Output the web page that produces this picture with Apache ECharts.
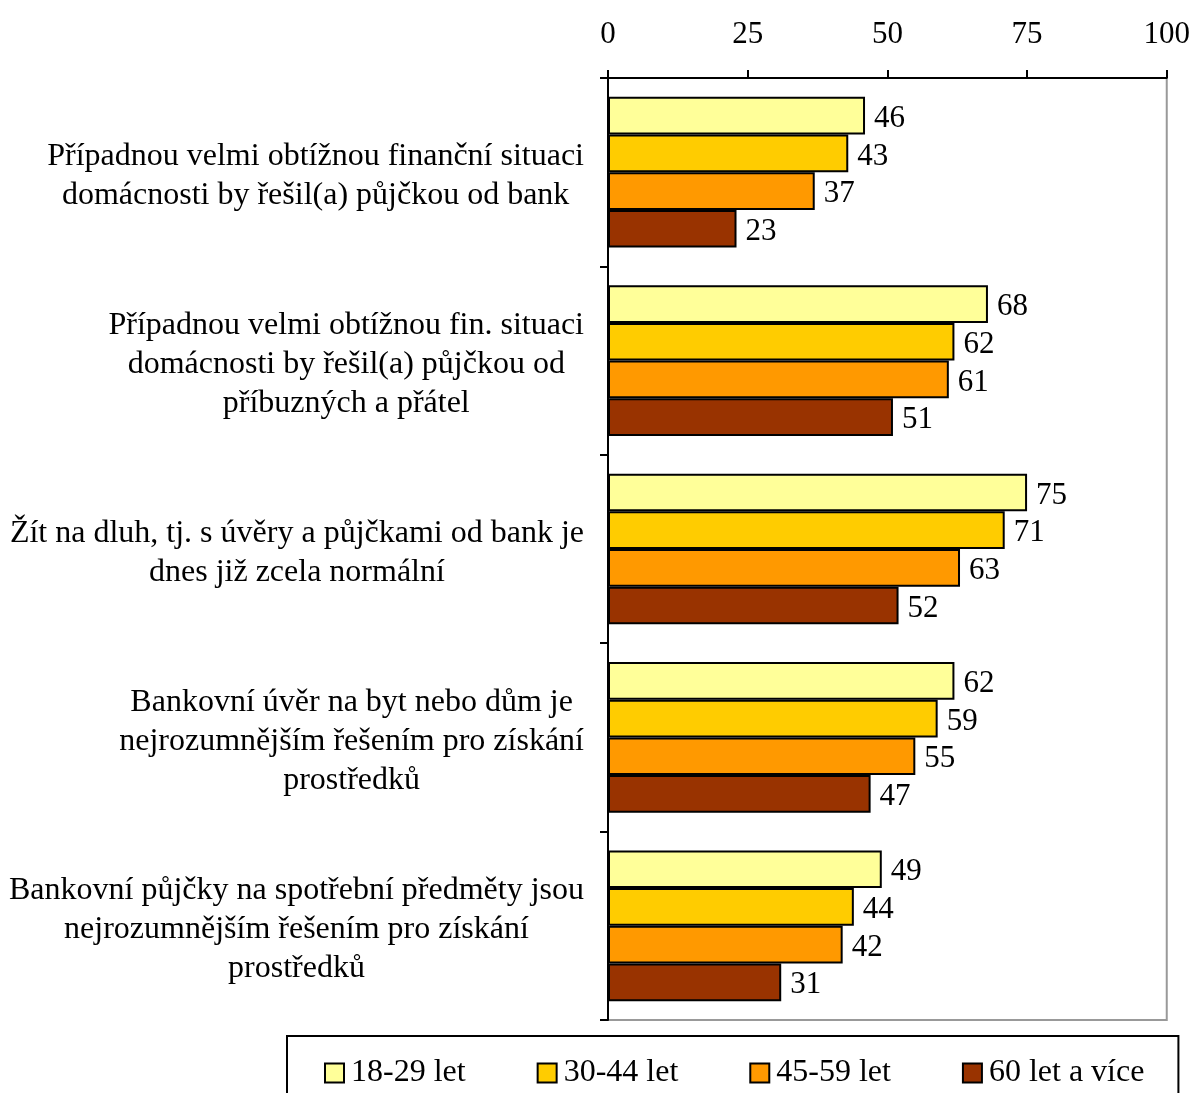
<!DOCTYPE html>
<html>
<head>
<meta charset="utf-8">
<script src="https://cdn.jsdelivr.net/npm/echarts@6/dist/echarts.min.js"></script>
<style>html,body{margin:0;padding:0;background:#fff}#c{width:1193px;height:1093px}</style>
</head>
<body>
<div id="c"></div>
<script>
const categories = [
  "Případnou velmi obtížnou finanční situaci\ndomácnosti by řešil(a) půjčkou od bank",
  "Případnou velmi obtížnou fin. situaci\ndomácnosti by řešil(a) půjčkou od\npříbuzných a přátel",
  "Žít na dluh, tj. s úvěry a půjčkami od bank je\ndnes již zcela normální",
  "Bankovní úvěr na byt nebo dům je\nnejrozumnějším řešením pro získání\nprostředků",
  "Bankovní půjčky na spotřební předměty jsou\nnejrozumnějším řešením pro získání\nprostředků"
];
const seriesNames = ["18-29 let", "30-44 let", "45-59 let", "60 let a více"];
const s18_29 = [46, 68, 75, 62, 49];
const s30_44 = [43, 62, 71, 59, 44];
const s45_59 = [37, 61, 63, 55, 42];
const s60plus = [23, 51, 52, 47, 31];
const xTicks = [0, 25, 50, 75, 100];
const colors = ["#FFFF99", "#FFCC00", "#FF9900", "#993300"];

const FONT = "'Liberation Serif', 'Times New Roman', serif";
const values = [s18_29, s30_44, s45_59, s60plus];

const chart = echarts.init(document.getElementById('c'), null, {renderer: 'canvas'});
chart.setOption({
  animation: false,
  textStyle: {fontFamily: FONT},
  grid: {left: 608, right: 26, top: 78, bottom: 73, show: true, borderColor: '#999', borderWidth: 2, containLabel: false},
  xAxis: {
    type: 'value', position: 'top', min: xTicks[0], max: xTicks[xTicks.length - 1], interval: 25,
    axisLine: {show: true, lineStyle: {color: '#000', width: 2}},
    axisTick: {show: true, inside: false, length: 8, lineStyle: {color: '#000', width: 2}},
    axisLabel: {fontFamily: FONT, fontSize: 31, color: '#000', margin: 28},
    splitLine: {show: false}
  },
  yAxis: {
    type: 'category', inverse: true, data: categories,
    axisLine: {show: true, lineStyle: {color: '#000', width: 2}},
    axisTick: {show: true, inside: false, length: 8, alignWithLabel: false, lineStyle: {color: '#000', width: 2}},
    axisLabel: {
      fontFamily: FONT, fontSize: 32, color: '#000', margin: 24, align: 'right', lineHeight: 39,
      padding: [8, 0, 0, 0],
      formatter: function (v) { return v.split('\n').map(l => '{c|' + l + '}').join('\n'); },
      rich: {c: {align: 'center', fontFamily: FONT, fontSize: 32, color: '#000', lineHeight: 39}}
    }
  },
  legend: {
    show: true, left: 287, top: 1036,
    padding: [21, 34, 30, 37],
    borderColor: '#000', borderWidth: 2,
    itemWidth: 19, itemHeight: 19, itemGap: 71, icon: 'rect',
    textStyle: {fontFamily: FONT, fontSize: 32, color: '#000', padding: [0, 0, 0, 2]},
    data: seriesNames
  },
  series: seriesNames.map((n, i) => ({
    name: n, type: 'bar', data: values[i],
    barGap: '0%', barCategoryGap: '20%',
    itemStyle: {color: colors[i], borderColor: '#000', borderWidth: 2},
    label: {show: true, position: 'right', distance: 9, offset: [0, 3], fontFamily: FONT, fontSize: 31, color: '#000'}
  }))
});
</script>
</body>
</html>
